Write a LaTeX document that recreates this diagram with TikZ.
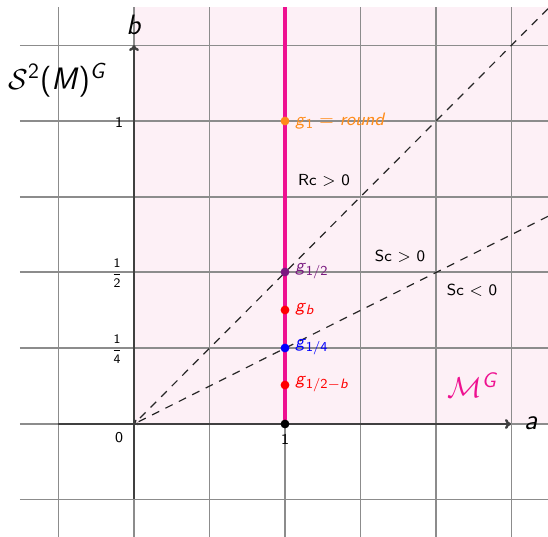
\documentclass[tikz,border=0pt]{standalone}
\usepackage{amsmath}
\usetikzlibrary{arrows.meta}
\definecolor{pinkbg}{HTML}{FDF0F6}
\definecolor{magline}{HTML}{EE1190}
\definecolor{orng}{HTML}{FF8C1A}
\definecolor{purp}{HTML}{7A1A80}
\definecolor{gridc}{HTML}{8C8C8C}
\definecolor{axisc}{HTML}{404040}
\newcommand{\gi}{\textit{g}}
\newcommand{\mysub}[1]{\raisebox{-0.45ex}{\fontsize{6.8}{8}\selectfont #1}}
\tikzset{
  gridline/.style={gridc, line width=0.7pt},
  axisline/.style={axisc, line width=1.2pt, -{To[length=3pt,width=5pt]}},
  dashline/.style={black!85, line width=0.6pt, dash pattern=on 4pt off 3.5pt, -{To[length=2pt,width=3pt]}},
  pt/.style={circle, inner sep=0pt, minimum size=4.4pt},
  glab/.style={anchor=west, font=\sffamily\fontsize{9}{10.8}\selectfont, inner sep=1pt},
  regionlab/.style={font=\sffamily\fontsize{8}{9.6}\selectfont},
  ticklab/.style={font=\sffamily\fontsize{7.5}{9}\selectfont},
  biglab/.style={font=\sffamily\fontsize{14}{16}\selectfont}
}
\begin{document}
\begin{tikzpicture}[x=0.5pt,y=-0.5pt]
\useasboundingbox (0,0) rectangle (548,537);
% background region
\fill[pinkbg] (134,7) rectangle (548,424);
% grid
\foreach \gx in {58.5,134,209.5,285,360.5,436,511.5}
  \draw[gridline] (\gx,7) -- (\gx,537);
\foreach \gy in {45.5,121,197,272,348,424,499.5}
  \draw[gridline] (20,\gy) -- (548,\gy);
% coordinates
\coordinate (O) at (134,424);
\coordinate (xs) at (58,424);
\coordinate (xe) at (511,424);
\coordinate (ys) at (134,499);
\coordinate (ye) at (134,45);
\coordinate (d1) at (548,8.7);
\coordinate (d2) at (548,216.3);
\coordinate (mtop) at (285,7);
\coordinate (mbot) at (285,424);
% dashed lines
\draw[dashline] (d1) -- (O);
\draw[dashline] (d2) -- (O);
% axes
\draw[axisline] (xs) -- (xe);
\draw[axisline] (ys) -- (ye);
% magenta line
\draw[magline, line width=2pt] (mtop) -- (mbot);
% points
\node[pt, fill=orng] (g1) at (285,121) {};
\node[pt, fill=purp] (ghalf) at (285,272) {};
\node[pt, fill=red] (gb) at (285,310) {};
\node[pt, fill=blue] (gq) at (285,348) {};
\node[pt, fill=red] (ghb) at (285,385) {};
\node[pt, fill=black] (p1) at (285,424) {};
% point labels
\node[glab, text=orng] (lg1) at (293,121) {\gi\mysub{1} $=$ \textit{round}};
\node[glab, text=purp] (lghalf) at (293,271) {\gi\mysub{1/2}};
\node[glab, text=red] (lgb) at (293,309) {\gi\mysub{\textit{b}}};
\node[glab, text=blue] (lgq) at (293,347) {\gi\mysub{1/4}};
\node[glab, text=red] (lghb) at (293,384) {\gi\mysub{1/2$-$\textit{b}}};
% region labels
\node[regionlab] (rc) at (324,180) {Rc $>$ 0};
\node[regionlab] (scp) at (400,256) {Sc $>$ 0};
\node[regionlab] (scn) at (472,290) {Sc $<$ 0};
\node[font=\fontsize{15}{17}\selectfont, text=magline] (MG) at (472,385) {$\mathcal{M}^{\text{\sffamily\itshape G}}$};
% axis labels
\node[biglab] (lb) at (134,25) {\textit{b}};
\node[biglab] (la) at (531,423) {\textit{a}};
\node[font=\sffamily\fontsize{15.5}{18}\selectfont] (S2) at (57,80) {$\mathcal{S}^{\text{\sffamily 2}}$(\textit{M})$^{\text{\sffamily\itshape G}}$};
% ticks
\node[ticklab] (t1y) at (119,122) {1};
\node[ticklab] (t0) at (119,438) {0};
\node[ticklab] (t1x) at (285,439) {1};
\node[font=\sffamily\fontsize{6.5}{8}\selectfont] (th) at (117,273) {$\dfrac{\text{\sffamily 1}}{\text{\sffamily 2}}$};
\node[font=\sffamily\fontsize{6.5}{8}\selectfont] (tq) at (117,349) {$\dfrac{\text{\sffamily 1}}{\text{\sffamily 4}}$};
\end{tikzpicture}
\end{document}
